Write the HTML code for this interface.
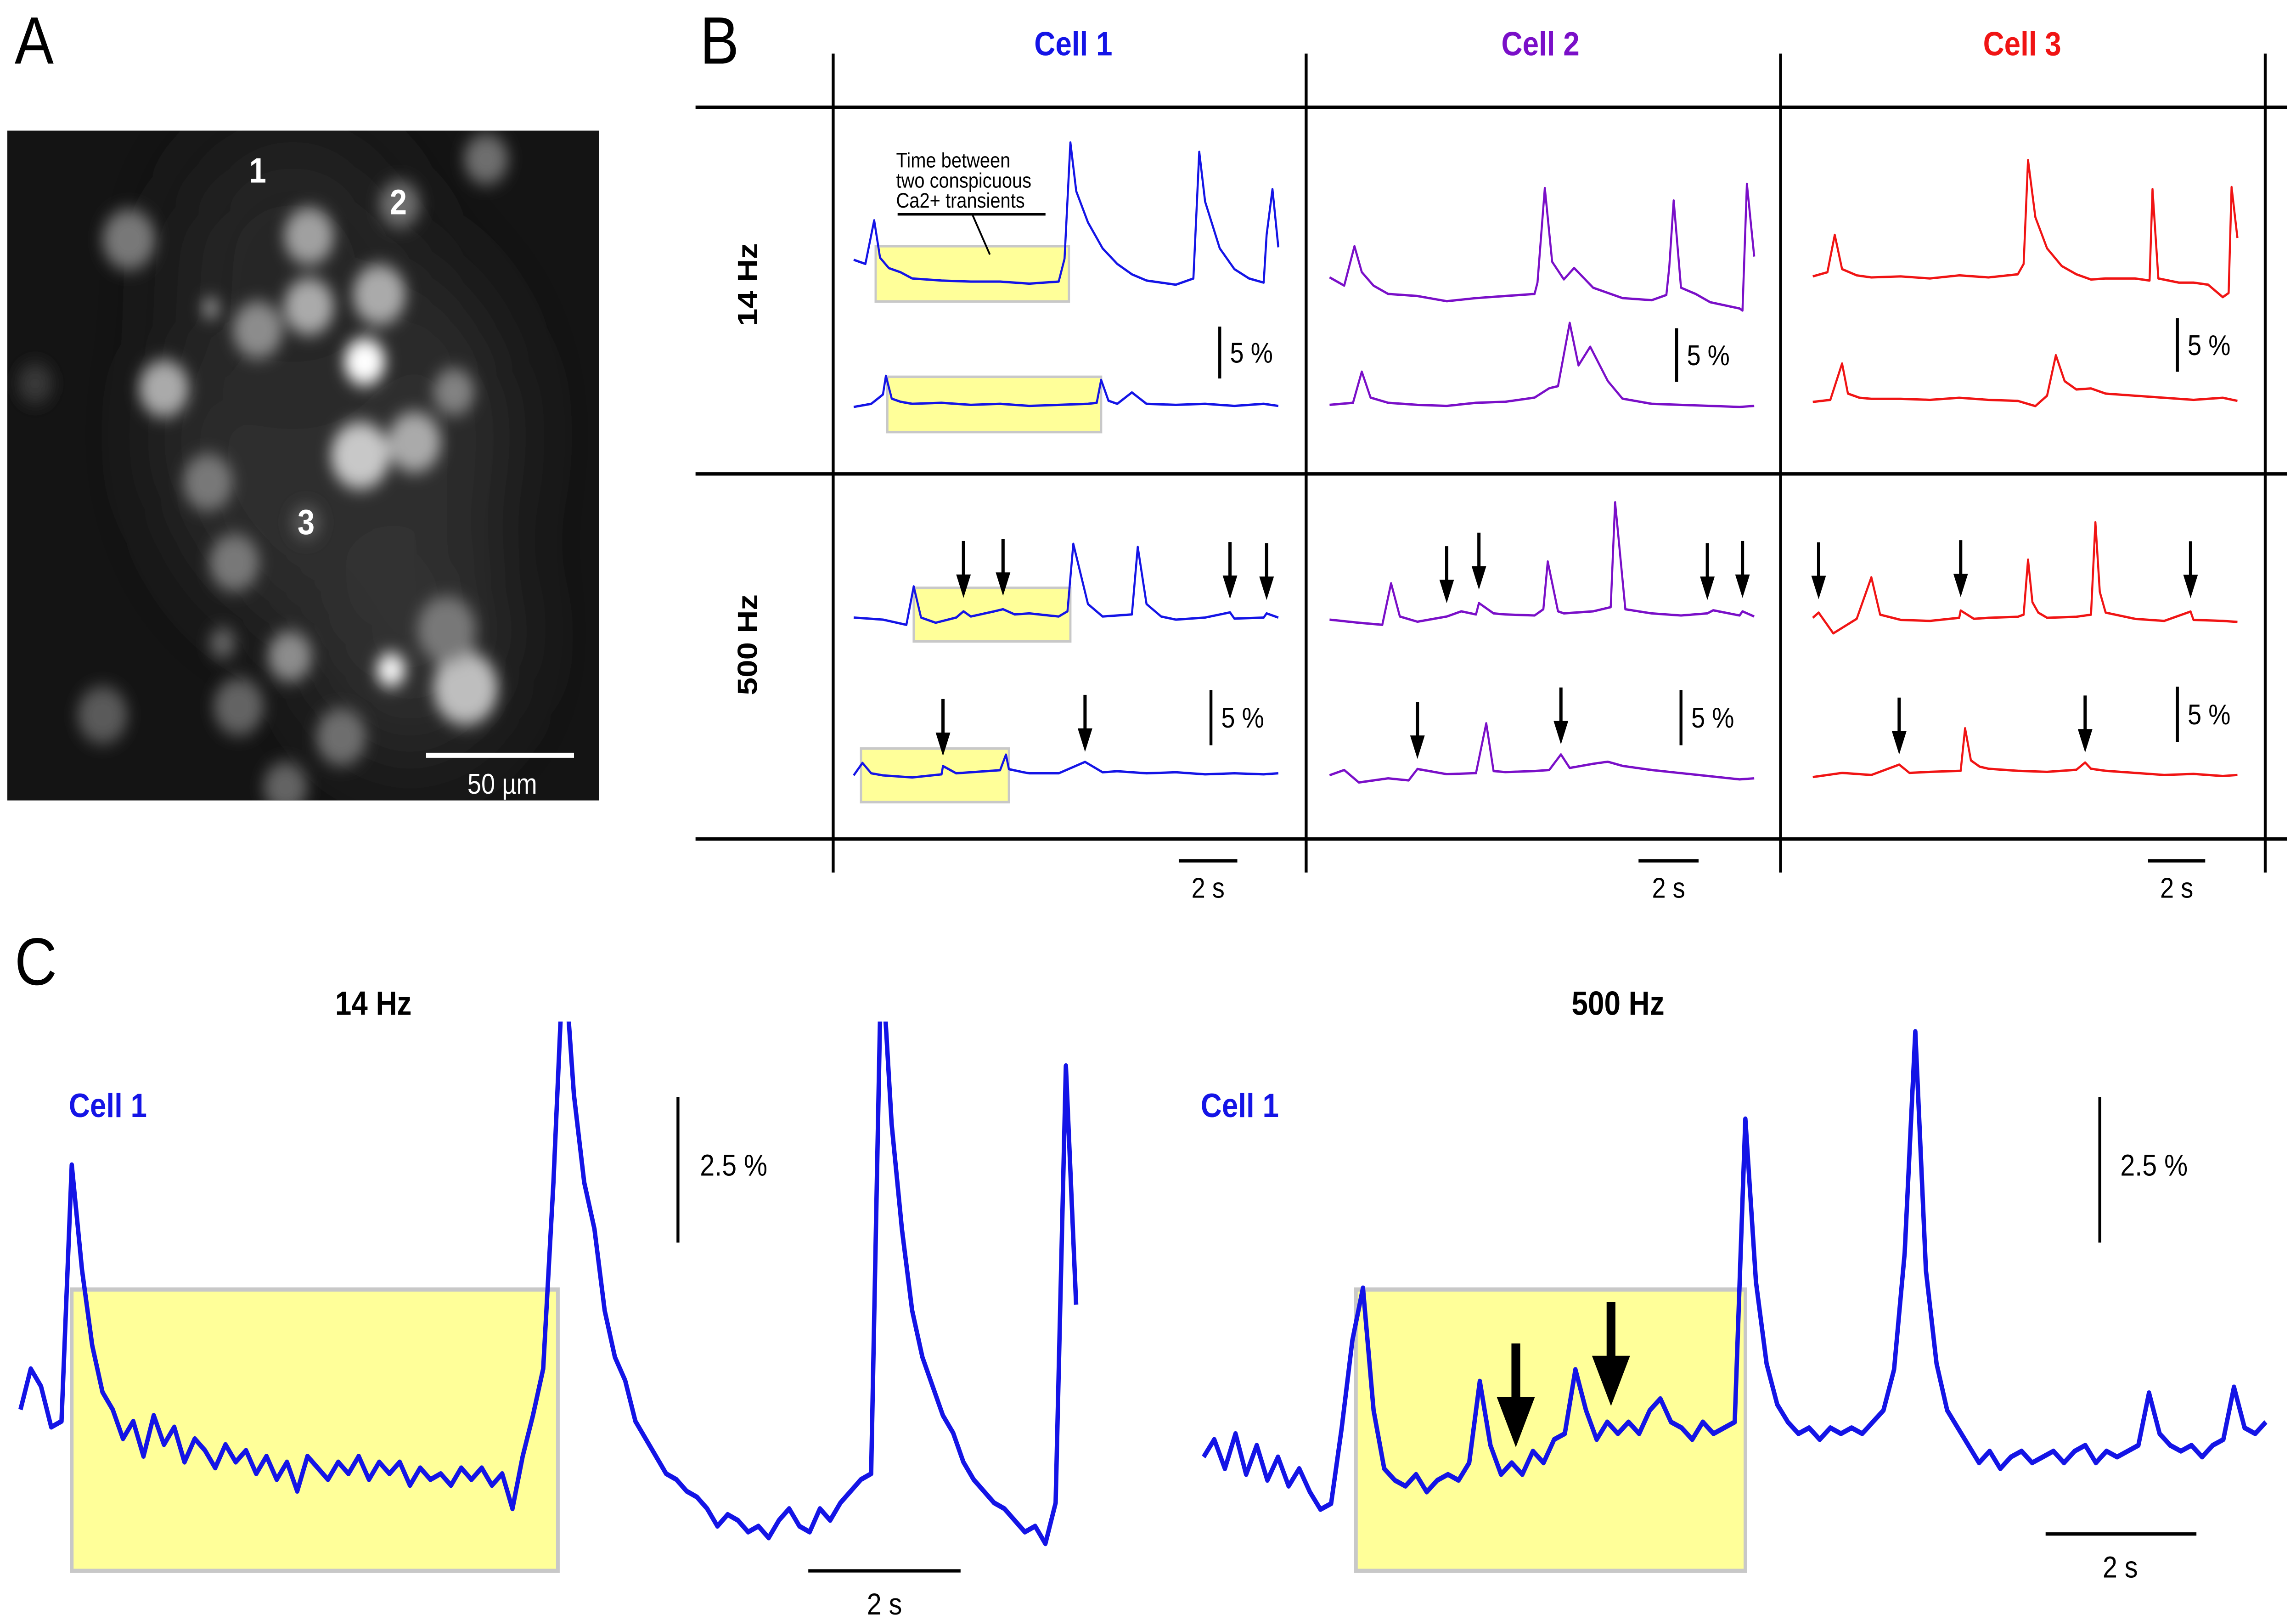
<!DOCTYPE html>
<html><head><meta charset="utf-8">
<style>
html,body{margin:0;padding:0;background:#fff;overflow:hidden;width:100vw;height:100vh;}
svg{display:block;position:absolute;left:0;top:0;width:100vw;height:100vh;font-family:"Liberation Sans",Arial,sans-serif;}
</style></head>
<body>
<svg id="fig" viewBox="0 0 1568 967.35" preserveAspectRatio="none" xmlns="http://www.w3.org/2000/svg">
<defs>
<filter id="blur" x="-50%" y="-50%" width="200%" height="200%"><feGaussianBlur stdDeviation="5"/></filter>
<filter id="blur2" x="-50%" y="-50%" width="200%" height="200%"><feGaussianBlur stdDeviation="30"/></filter>
<clipPath id="imgclip"><rect x="5" y="78" width="404" height="400"/></clipPath>
<clipPath id="cclipL"><rect x="0" y="610" width="760" height="340"/></clipPath>
<clipPath id="cclipR"><rect x="800" y="600" width="768" height="340"/></clipPath>
</defs>
<rect x="0" y="0" width="1568" height="967.35" fill="#fff"/>

<text x="10" y="38" font-size="40">A</text>
<text x="478" y="38" font-size="40">B</text>
<text x="10" y="588" font-size="40">C</text>

<g clip-path="url(#imgclip)">
  <rect x="5" y="78" width="404" height="400" fill="#141414"/>
  <g id="haze" filter="url(#blur2)"></g>
  <g id="blobs" filter="url(#blur)"></g>
</g>
<text x="176" y="109" font-size="21" font-weight="bold" fill="#fff" text-anchor="middle">1</text>
<text x="272" y="128" font-size="21" font-weight="bold" fill="#fff" text-anchor="middle">2</text>
<text x="209" y="319" font-size="21" font-weight="bold" fill="#fff" text-anchor="middle">3</text>
<line x1="291" y1="451" x2="392" y2="451" stroke="#fff" stroke-width="3"/>
<text x="343" y="474" font-size="17" fill="#fff" text-anchor="middle">50 µm</text>

<g stroke="#000" stroke-width="2">
  <line x1="569" y1="32" x2="569" y2="521"/>
  <line x1="892" y1="32" x2="892" y2="521"/>
  <line x1="1216" y1="32" x2="1216" y2="521"/>
  <line x1="1547" y1="32" x2="1547" y2="521"/>
  <line x1="475" y1="64" x2="1562" y2="64"/>
  <line x1="475" y1="283" x2="1562" y2="283"/>
  <line x1="475" y1="501" x2="1562" y2="501"/>
</g>
<text x="733" y="33" font-size="20" font-weight="bold" fill="#1414E6" text-anchor="middle">Cell 1</text>
<text x="1052" y="33" font-size="20" font-weight="bold" fill="#7A0FC8" text-anchor="middle">Cell 2</text>
<text x="1381" y="33" font-size="20" font-weight="bold" fill="#F01414" text-anchor="middle">Cell 3</text>
<text transform="translate(517,170) rotate(-90)" font-size="19" font-weight="bold" text-anchor="middle">14 Hz</text>
<text transform="translate(517,385) rotate(-90)" font-size="19" font-weight="bold" text-anchor="middle">500 Hz</text>

<rect x="598" y="147" width="132" height="33" fill="#FFFF99" stroke="#c8c8c8" stroke-width="1.5"/>
<rect x="606" y="225" width="146" height="33" fill="#FFFF99" stroke="#c8c8c8" stroke-width="1.5"/>
<rect x="624" y="351" width="107" height="32" fill="#FFFF99" stroke="#c8c8c8" stroke-width="1.5"/>
<rect x="588" y="447" width="101" height="32" fill="#FFFF99" stroke="#c8c8c8" stroke-width="1.5"/>
<g font-size="12.5">
  <text x="612" y="100">Time between</text>
  <text x="612" y="112">two conspicuous</text>
  <text x="612" y="124">Ca2+ transients</text>
  <line x1="613" y1="128" x2="714" y2="128" stroke="#000" stroke-width="1.5"/>
  <line x1="664" y1="128" x2="676" y2="152" stroke="#000" stroke-width="1.2"/>
</g>

<text x="255" y="606" font-size="20" font-weight="bold" text-anchor="middle">14 Hz</text>
<text x="1105" y="606" font-size="20" font-weight="bold" text-anchor="middle">500 Hz</text>
<text x="47" y="667" font-size="20" font-weight="bold" fill="#1414E6">Cell 1</text>
<text x="820" y="667" font-size="20" font-weight="bold" fill="#1414E6">Cell 1</text>
<rect x="49" y="770" width="332" height="168" fill="#FFFF99" stroke="#c8c8c8" stroke-width="2.5"/>
<rect x="926" y="770" width="266" height="168" fill="#FFFF99" stroke="#c8c8c8" stroke-width="2.5"/>
<line x1="463" y1="655" x2="463" y2="742" stroke="#000" stroke-width="2"/>
<text x="478" y="702" font-size="18">2.5 %</text>
<line x1="552" y1="938" x2="656" y2="938" stroke="#000" stroke-width="2"/>
<text x="604" y="964" font-size="18" text-anchor="middle">2 s</text>
<line x1="1434" y1="655" x2="1434" y2="742" stroke="#000" stroke-width="2"/>
<text x="1448" y="702" font-size="18">2.5 %</text>
<line x1="1397" y1="916" x2="1500" y2="916" stroke="#000" stroke-width="2"/>
<text x="1448" y="942" font-size="18" text-anchor="middle">2 s</text>

<g id="traces"></g>
<g id="marks"></g>
</svg>

<script>
var NS = "http://www.w3.org/2000/svg";
var cLeftValues = [1.1,1.8,1.5,0.8,0.9,5.3,3.5,2.2,1.4,1.1,0.6,0.9,0.3,1.0,0.5,0.8,0.2,0.6,0.4,0.1,0.5,0.2,0.4,0.0,0.3,-0.1,0.2,-0.3,0.3,0.1,-0.1,0.2,0.0,0.3,-0.1,0.2,0.0,0.2,-0.2,0.1,-0.1,0.0,-0.2,0.1,-0.1,0.1,-0.2,0.0,-0.6,0.3,1.0,1.8,5.0,9.0,6.5,5.0,4.2,2.8,2.0,1.6,0.9,0.6,0.3,0.0,-0.1,-0.3,-0.4,-0.6,-0.9,-0.7,-0.8,-1.0,-0.9,-1.1,-0.8,-0.6,-0.9,-1.0,-0.6,-0.8,-0.5,-0.3,-0.1,0.0,9.0,6.0,4.2,2.8,2.0,1.5,1.0,0.7,0.2,-0.1,-0.3,-0.5,-0.6,-0.8,-1.0,-0.9,-1.2,-0.5,7.0,2.9];
var cLeftDt = 0.1346;
var cRightValues = [0.0,0.3,-0.2,0.4,-0.3,0.2,-0.4,0.0,-0.5,-0.2,-0.6,-0.9,-0.8,0.5,2.0,2.9,0.8,-0.2,-0.4,-0.5,-0.3,-0.6,-0.4,-0.3,-0.4,-0.1,1.3,0.2,-0.3,-0.1,-0.3,0.1,-0.1,0.3,0.4,1.5,0.8,0.3,0.6,0.4,0.6,0.4,0.8,1.0,0.6,0.5,0.3,0.6,0.4,0.5,0.6,5.8,3.0,1.6,0.9,0.6,0.4,0.5,0.3,0.5,0.4,0.5,0.4,0.6,0.8,1.5,3.5,7.3,3.2,1.6,0.8,0.5,0.2,-0.1,0.1,-0.2,0.0,0.1,-0.1,0.0,0.1,-0.1,0.1,0.2,-0.1,0.1,0.0,0.1,0.2,1.1,0.4,0.2,0.1,0.2,0.0,0.2,0.3,1.2,0.5,0.4,0.6];
var cRightDuration = 13.95;

var c1HzTopT=[0,0.4,0.7,0.9,1.2,1.6,2,3,4,5,6,7,7.2,7.4,7.6,8,8.5,9,9.5,10,11,11.6,11.8,12,12.5,13,13.5,14,14.1,14.3,14.5];
var c1HzTopV=[2.4,2,6.2,2.6,1.6,1.2,0.6,0.4,0.3,0.3,0.1,0.3,2.5,13.7,9,6,3.5,2,1,0.4,0,0.6,12.8,8,3.5,1.5,0.6,0.2,4.8,9.2,3.6];
var c1HzBotT=[0,0.6,1,1.1,1.3,1.6,2,3,4,5,6,7,8,8.3,8.45,8.7,9,9.5,10,11,12,13,14,14.5];
var c1HzBotV=[0,0.3,1.2,3,0.8,0.5,0.3,0.4,0.2,0.3,0.1,0.2,0.3,0.4,2.6,0.6,0.3,1.4,0.3,0.2,0.3,0.1,0.3,0.1];
var c2HzTopT=[0,0.5,0.85,1.1,1.5,2,3,4,5,6,7,7.1,7.35,7.6,8,8.35,9,10,11,11.5,11.6,11.75,12,12.5,13,14,14.1,14.25,14.5];
var c2HzTopV=[2,1.2,5,2.5,1.2,0.4,0.2,-0.3,0,0.2,0.4,1.5,10.6,3.5,1.8,2.9,1,0,-0.2,0.3,3,9.4,1,0.4,-0.4,-1,-1.2,11,4];
var c2HzBotT=[0,0.8,1.1,1.4,2,3,4,5,6,7,7.5,7.8,8.2,8.5,8.9,9.5,10,11,12,13,14,14.5];
var c2HzBotV=[0.2,0.4,3.4,0.9,0.4,0.2,0.1,0.4,0.5,0.9,1.8,2,8.1,4,5.8,2.5,0.8,0.3,0.2,0.1,0,0.1];
var c3HzTopT=[0,0.5,0.75,1,1.5,2,3,4,5,6,7,7.2,7.35,7.6,8,8.5,9,9.5,10,11,11.5,11.6,11.8,12.5,13,13.5,14,14.2,14.3,14.5];
var c3HzTopV=[0.8,1.2,4.8,1.5,0.9,0.7,0.8,0.6,0.9,0.7,1,2,12,6.5,3.5,1.8,1,0.5,0.6,0.6,0.4,9.2,0.6,0.2,0.2,0,-1.2,-0.8,9.4,4.5];
var c3HzBotT=[0,0.6,1,1.2,1.6,2,3,4,5,6,7,7.6,8,8.3,8.6,9,9.5,10,11,12,13,14,14.5];
var c3HzBotV=[0,0.2,3.7,0.8,0.4,0.3,0.3,0.2,0.4,0.2,0.1,-0.4,0.6,4.5,2,1.2,1.3,0.8,0.6,0.4,0.2,0.4,0.1];
var c1KTopT=[0,1,1.8,2.05,2.3,2.8,3.5,3.75,4,4.8,5.1,5.5,6,7,7.3,7.5,8,8.5,9.5,9.7,10,10.5,11,12,12.85,13,14,14.1,14.5];
var c1KTopV=[0.2,0,-0.5,3.2,0.2,-0.3,0.2,0.8,0.3,0.8,1,0.5,0.6,0.3,0.8,7.3,1.5,0.3,0.5,7,1.5,0.3,0,0.2,0.7,0.1,0.2,0.6,0.2];
var c1KBotT=[0,0.3,0.6,1,2,3,3.05,3.5,4,5,5.2,5.3,5.8,6,7,7.9,8.5,9,10,11,12,13,14,14.5];
var c1KBotV=[0,1.2,0.2,0,-0.2,0.1,0.9,0.2,0.3,0.5,2,0.6,0.3,0.2,0.2,1.3,0.3,0.4,0.2,0.3,0.1,0.2,0.1,0.2];
var c2KTopT=[0,1,1.8,2.1,2.4,3,4,4.5,5,5.1,5.6,6,7,7.3,7.45,7.8,8,9,9.6,9.75,10.1,11,12,12.9,13.1,14,14.1,14.5];
var c2KTopV=[0,-0.3,-0.5,3.5,0.3,-0.2,0.3,0.8,0.5,1.6,0.6,0.5,0.4,1,5.6,0.8,0.6,0.8,1.2,11.3,1,0.6,0.4,0.6,0.9,0.4,0.8,0.3];
var c2KBotT=[0,0.5,1,2,2.7,3,4,5,5.35,5.6,6,7,7.5,7.9,8.2,9,9.5,10,11,12,13,14,14.5];
var c2KBotV=[0.5,1,-0.2,0.2,0,1.1,0.6,0.7,5.5,0.9,0.8,0.9,1,2.5,1.2,1.6,1.8,1.4,1,0.7,0.4,0.1,0.2];
var c3KTopT=[0,0.2,0.7,1.5,2,2.3,3,4,5,5.05,5.5,6,7,7.2,7.35,7.5,7.7,8,9,9.5,9.65,9.8,10,11,12,12.9,13,14,14.5];
var c3KTopV=[0.5,1,-1,0.4,4.4,0.8,0.3,0.2,0.5,1.2,0.4,0.5,0.6,0.8,6.1,2,1,0.5,0.6,0.8,9.7,3,1,0.4,0.2,1.1,0.3,0.2,0.1];
var c3KBotT=[0,1,2,2.95,3.3,4,5.05,5.2,5.4,5.7,6,7,8,9,9.3,9.5,10,11,12,13,14,14.5];
var c3KBotV=[0,0.4,0.2,1.2,0.4,0.5,0.6,4.7,1.6,1.0,0.8,0.6,0.5,0.7,1.4,0.8,0.6,0.4,0.2,0.3,0.1,0.2];

var arrC1KTop=[3.75,5.1,12.85,14.1];
var arrC1KBot=[3.05,7.9];
var arrC2KTop=[4,5.1,12.9,14.1];
var arrC2KBot=[3.0,7.9];
var arrC3KTop=[0.2,5.05,12.9];
var arrC3KBot=[2.95,9.3];
var arrCRight=[4.1,5.35];

var BLUE="#1414E6", PURPLE="#7A0FC8", RED="#F01414";
var traces=document.getElementById("traces");
var marks=document.getElementById("marks");

function xScale(x0,pxPerSec){return function(t){return x0+t*pxPerSec;};}
function yScale(base,pxPerPct){return function(v){return base-v*pxPerPct;};}

function drawTrace(name,ts,vs,xs,ys,color,w,clip){
  var d="";
  for(var i=0;i<vs.length;i++){d+=(i?"L":"M")+xs(ts[i]).toFixed(2)+" "+ys(vs[i]).toFixed(2);}
  var p=document.createElementNS(NS,"path");
  p.setAttribute("d",d);p.setAttribute("fill","none");p.setAttribute("stroke",color);
  p.setAttribute("stroke-width",w);p.setAttribute("stroke-linejoin","round");
  if(clip)p.setAttribute("clip-path",clip);
  
  
  traces.appendChild(p);
}
function interp(ts,vs,t){for(var i=1;i<ts.length;i++){if(t<=ts[i]){var f=(t-ts[i-1])/(ts[i]-ts[i-1]);return vs[i-1]+f*(vs[i]-vs[i-1]);}}return vs[vs.length-1];}
function drawArrow(name,x,yTip,len,shaft,hw,hh){
  var g=document.createElementNS(NS,"g");
  
  
  var l=document.createElementNS(NS,"line");
  l.setAttribute("x1",x);l.setAttribute("x2",x);l.setAttribute("y1",yTip-len);l.setAttribute("y2",yTip-hh+1);
  l.setAttribute("stroke","#000");l.setAttribute("stroke-width",shaft);
  var tri=document.createElementNS(NS,"polygon");
  tri.setAttribute("points",(x-hw/2)+","+(yTip-hh)+" "+(x+hw/2)+","+(yTip-hh)+" "+x+","+yTip);
  tri.setAttribute("fill","#000");
  g.appendChild(l);g.appendChild(tri);marks.appendChild(g);
}
function scaleBar(name,x,y1,y2,label){
  var l=document.createElementNS(NS,"line");
  l.setAttribute("x1",x);l.setAttribute("x2",x);l.setAttribute("y1",y1);l.setAttribute("y2",y2);
  l.setAttribute("stroke","#000");l.setAttribute("stroke-width",2);
  
  
  marks.appendChild(l);
  var t=document.createElementNS(NS,"text");
  t.setAttribute("x",x+7);t.setAttribute("y",(y1+y2)/2+6);t.setAttribute("font-size","17");
  t.textContent=label;
  
  
  marks.appendChild(t);
}
function timeBar(name,x1,x2,y){
  var l=document.createElementNS(NS,"line");
  l.setAttribute("x1",x1);l.setAttribute("x2",x2);l.setAttribute("y1",y);l.setAttribute("y2",y);
  l.setAttribute("stroke","#000");l.setAttribute("stroke-width",2);
  
  
  marks.appendChild(l);
  var t=document.createElementNS(NS,"text");
  t.setAttribute("x",(x1+x2)/2);t.setAttribute("y",y+22);t.setAttribute("font-size","17");t.setAttribute("text-anchor","middle");
  t.textContent="2 s";
  
  
  marks.appendChild(t);
}

var PX_PER_S=20, PX_PER_PCT=6.2;
var cells=[
 {x0:583,color:BLUE,key:"c1"},
 {x0:908,color:PURPLE,key:"c2"},
 {x0:1238,color:RED,key:"c3"}
];
var sets=[
 [c1HzTopT,c1HzTopV,c1HzBotT,c1HzBotV,c1KTopT,c1KTopV,c1KBotT,c1KBotV,arrC1KTop,arrC1KBot],
 [c2HzTopT,c2HzTopV,c2HzBotT,c2HzBotV,c2KTopT,c2KTopV,c2KBotT,c2KBotV,arrC2KTop,arrC2KBot],
 [c3HzTopT,c3HzTopV,c3HzBotT,c3HzBotV,c3KTopT,c3KTopV,c3KBotT,c3KBotV,arrC3KTop,arrC3KBot]
];
var bases=[[170,243,370,463],[178,243,370,466],[170,240,372,464]];
for(var c=0;c<3;c++){
  var xs=xScale(cells[c].x0,PX_PER_S), s=sets[c], b=bases[c];
  drawTrace(cells[c].key+"-14hz-trace-top",s[0],s[1],xs,yScale(b[0],PX_PER_PCT),cells[c].color,1.4);
  drawTrace(cells[c].key+"-14hz-trace-bottom",s[2],s[3],xs,yScale(b[1],PX_PER_PCT),cells[c].color,1.4);
  drawTrace(cells[c].key+"-500hz-trace-top",s[4],s[5],xs,yScale(b[2],PX_PER_PCT),cells[c].color,1.4);
  drawTrace(cells[c].key+"-500hz-trace-bottom",s[6],s[7],xs,yScale(b[3],PX_PER_PCT),cells[c].color,1.4);
  var ysT=yScale(b[2],PX_PER_PCT), ysB=yScale(b[3],PX_PER_PCT);
  s[8].forEach(function(t){drawArrow("event-arrow",xs(t),ysT(interp(s[4],s[5],t))-8,34,2.2,10,14);});
  s[9].forEach(function(t){drawArrow("event-arrow",xs(t),ysB(interp(s[6],s[7],t))-6,34,2.2,10,14);});
}
scaleBar("scale-bar-c1-14hz",833,195,226,"5 %");
scaleBar("scale-bar-c2-14hz",1145,196,228,"5 %");
scaleBar("scale-bar-c3-14hz",1487,190,222,"5 %");
scaleBar("scale-bar-c1-500hz",827,412,445,"5 %");
scaleBar("scale-bar-c2-500hz",1148,412,445,"5 %");
scaleBar("scale-bar-c3-500hz",1487,410,443,"5 %");
timeBar("time-bar-c1",805,845,514);
timeBar("time-bar-c2",1119,1160,514);
timeBar("time-bar-c3",1467,1506,514);

var C_PX_PER_PCT=34.8;
var cLeftT=cLeftValues.map(function(v,i){return i*cLeftDt;});
drawTrace("c-left-trace-14hz",cLeftT,cLeftValues,xScale(14,52),yScale(880,C_PX_PER_PCT),BLUE,3,"url(#cclipL)");
var rDt=cRightDuration/(cRightValues.length-1);
var cRightT=cRightValues.map(function(v,i){return i*rDt;});
var xsR=xScale(822,52), ysR=yScale(870,C_PX_PER_PCT);
drawTrace("c-right-trace-500hz",cRightT,cRightValues,xsR,ysR,BLUE,3,"url(#cclipR)");
arrCRight.forEach(function(t){drawArrow("big-event-arrow",xsR(t),ysR(interp(cRightT,cRightValues,t))-12,62,6,26,30);});

var blobs=[[88,143,18,120],[211,141,17,160],[273,122,14,110],[332,95,15,110],[144,184,6,150],[176,197,17,140],[211,183,17,170],[259,176,18,170],[249,216,14,255],[112,232,17,170],[310,234,14,130],[246,272,20,200],[283,264,18,170],[142,288,17,120],[209,312,10,90],[160,336,17,120],[152,384,9,100],[198,392,15,140],[267,400,10,245],[318,411,22,190],[305,376,20,120],[70,427,17,90],[163,422,17,100],[233,440,17,110],[195,470,15,100],[24,229,12,55]];
var hz=document.getElementById("haze");
[[230,260,120,45],[280,380,70,50],[200,160,80,40]].forEach(function(h){
  var e=document.createElementNS(NS,"circle");
  e.setAttribute("cx",h[0]);e.setAttribute("cy",h[1]);e.setAttribute("r",h[2]);
  e.setAttribute("fill","rgb("+h[3]+","+h[3]+","+h[3]+")");
  
  
  hz.appendChild(e);
});
var bg=document.getElementById("blobs");
blobs.forEach(function(b){
  var e=document.createElementNS(NS,"circle");
  e.setAttribute("cx",b[0]);e.setAttribute("cy",b[1]);e.setAttribute("r",b[2]);
  e.setAttribute("fill","rgb("+b[3]+","+b[3]+","+b[3]+")");
  
  
  bg.appendChild(e);
});
</script>
</body></html>
